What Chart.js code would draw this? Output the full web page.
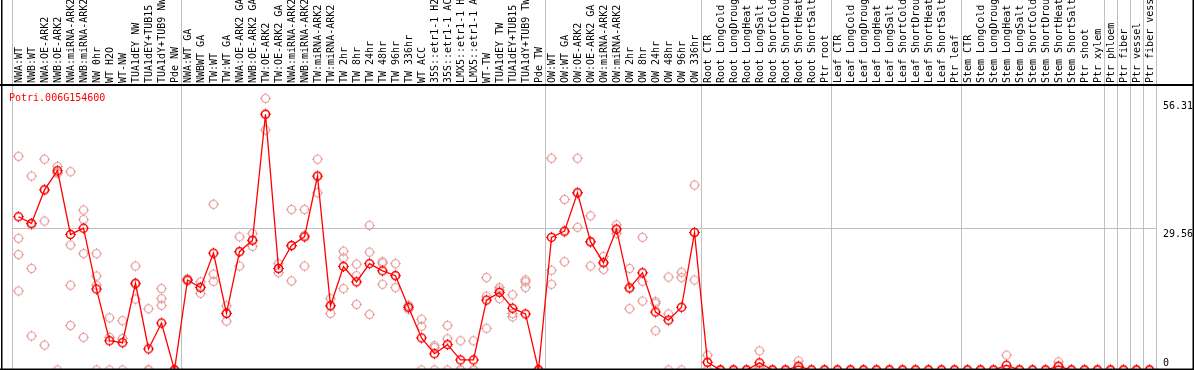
<!DOCTYPE html>
<html>
<head>
<meta charset="utf-8">
<script src="https://cdn.jsdelivr.net/npm/chart.js@4.4.1/dist/chart.umd.min.js"></script>
<style>
  html, body { margin: 0; padding: 0; background: #fff; }
  #wrap { width: 1194px; height: 370px; }
</style>
</head>
<body>
<div id="wrap"><canvas id="exprChart" width="1194" height="370"></canvas></div>
<script>
const geneId = "Potri.006G154600";

const conditions = [
  "NWA:WT", "NWB:WT", "NWA:OE-ARK2", "NWB:OE-ARK2", "NWA:miRNA-ARK2", "NWB:miRNA-ARK2",
  "NW 0hr", "WT H2O", "WT-NW", "TUA1dEY NW", "TUA1dEY+TUB15 NW", "TUA1dY+TUB9 NW", "Pde NW",
  "NWA:WT GA", "NWBWT GA", "TW:WT", "TW:WT GA", "NWA:OE-ARK2 GA", "NWB:OE-ARK2 GA",
  "TW:OE-ARK2", "TW:OE-ARK2 GA", "NWA:miRNA-ARK2 GA", "NWB:miRNA-ARK2 GA", "TW:miRNA-ARK2",
  "TW:miRNA-ARK2 GA", "TW 2hr", "TW 8hr", "TW 24hr", "TW 48hr", "TW 96hr", "TW 336hr",
  "WT ACC", "35S::etr1-1 H2O", "35S::etr1-1 ACC", "LMX5::etr1-1 H2O", "LMX5::etr1-1 ACC",
  "WT-TW", "TUA1dEY TW", "TUA1dEY+TUB15 TW", "TUA1dY+TUB9 TW", "Pde TW",
  "OW:WT", "OW:WT GA", "OW:OE-ARK2", "OW:OE-ARK2 GA", "OW:miRNA-ARK2", "OW:miRNA-ARK2 GA",
  "OW 2hr", "OW 8hr", "OW 24hr", "OW 48hr", "OW 96hr", "OW 336hr",
  "Root CTR", "Root LongCold", "Root LongDrought", "Root LongHeat", "Root LongSalt",
  "Root ShortCold", "Root ShortDrought", "Root ShortHeat", "Root ShortSalt", "Ptr root",
  "Leaf CTR", "Leaf LongCold", "Leaf LongDrought", "Leaf LongHeat", "Leaf LongSalt",
  "Leaf ShortCold", "Leaf ShortDrought", "Leaf ShortHeat", "Leaf ShortSalt", "Ptr leaf",
  "Stem CTR", "Stem LongCold", "Stem LongDrought", "Stem LongHeat", "Stem LongSalt",
  "Stem ShortCold", "Stem ShortDrought", "Stem ShortHeat", "Stem ShortSalt", "Ptr shoot", "Ptr xylem",
  "Ptr phloem", "Ptr fiber", "Ptr vessel", "Ptr fiber vessel"
];

// index of the first sample of each group (group separators)
const groupStarts = [0, 13, 41, 53, 63, 73, 84, 85, 86, 87, 88];

const meanExpr = [
  32.0, 30.6, 37.6, 41.6, 28.3, 29.6, 16.9, 6.1, 5.7, 18.1, 4.4, 9.8, 0,
  18.8, 17.2, 24.4, 11.8, 24.7, 27.1, 53.4, 21.2, 26.0, 27.8, 40.5, 13.4, 21.6, 18.4,
  22.2, 20.7, 19.7, 13.1, 6.7, 3.4, 5.3, 2.1, 2.1, 14.6, 16.2, 12.9, 11.7, 0,
  27.7, 29.0, 37.0, 26.8, 22.4, 29.4, 17.1, 20.3, 12.1, 10.4, 13.1, 28.7,
  1.6, 0, 0, 0, 1.5, 0, 0, 0.8, 0, 0,
  0, 0, 0, 0, 0, 0, 0, 0, 0, 0,
  0, 0, 0, 1.0, 0, 0, 0, 0.8, 0, 0, 0,
  0, 0, 0, 0
];

const rep1 = [
  44.6, 40.5, 44.0, 42.5, 41.4, 33.4, 24.3, 10.9, 10.3, 21.7, 12.8, 17.0, 0,
  19.0, 18.4, 34.6, 13.4, 27.8, 28.5, 56.7, 22.2, 33.5, 33.5, 44.0, 14.9, 24.8, 22.1,
  30.2, 22.6, 22.2, 13.5, 10.6, 5.1, 9.3, 6.1, 6.1, 19.3, 17.2, 15.7, 18.8, 0,
  44.2, 35.6, 44.2, 32.2, 23.7, 30.3, 21.2, 27.7, 14.3, 19.4, 20.4, 38.6,
  3.1, 0, 0, 0, 4.0, 0, 0, 1.9, 0, 0,
  0, 0, 0, 0, 0, 0, 0, 0, 0, 0,
  0, 0, 0, 3.1, 0, 0, 0, 1.7, 0, 0, 0,
  0, 0, 0, 0
];

const rep2 = [
  27.5, 30.3, 37.7, 41.1, 26.1, 31.4, 19.6, 6.8, 6.6, 17.9, 0, 14.9, 0,
  18.8, 17.3, 20.0, 11.9, 24.7, 27.0, 53.4, 21.2, 25.9, 28.1, 40.4, 13.5, 23.4, 19.7,
  24.6, 22.3, 19.7, 13.1, 9.1, 4.7, 6.5, 0, 0, 15.4, 16.7, 11.8, 18.4, 0,
  20.8, 28.8, 37.0, 26.6, 22.4, 29.4, 17.3, 18.5, 13.9, 11.7, 19.3, 28.7,
  1.6, 0, 0, 0, 0.5, 0, 0, 0.5, 0, 0,
  0, 0, 0, 0, 0, 0, 0, 0, 0, 0,
  0, 0, 0, 0, 0, 0, 0, 0.7, 0, 0, 0,
  0, 0, 0, 0
];

const rep3 = [
  24.1, 21.2, 31.1, 41.2, 17.7, 24.3, 17.7, 0, 0, 14.8, 0, 13.5, 0,
  18.6, 16.0, 18.5, 10.2, 21.7, 25.8, 50.1, 20.3, 18.6, 21.7, 37.0, 11.8, 17.0, 13.7,
  11.6, 17.9, 17.2, 12.7, 0, 0, 0, 0, 0, 8.7, 14.9, 11.1, 17.2, 0,
  17.9, 22.6, 29.8, 21.7, 21.0, 28.5, 12.8, 14.4, 8.2, 0, 0, 18.8,
  0, 0, 0, 0, 0, 0, 0, 0, 0, 0,
  0, 0, 0, 0, 0, 0, 0, 0, 0, 0,
  0, 0, 0, 0, 0, 0, 0, 0, 0, 0, 0,
  0, 0, 0, 0
];

// samples with more than three replicates
const extraIdx = [6, 6, 11, 11, 39, 39, 39];
const extraVal = [16.5, 7.1, 5.2, 0, 9.3, 6.8, 0];

const yTicks = [0, 29.56, 56.31];
const yTickLabels = ["0", "29.56", "56.31"];

const monoFont = "'DejaVu Sans Mono', 'Liberation Mono', monospace";
const gridGray = "#c0c0c0";

// circle with four little ticks, like the original plot symbol
function makeMarker(color, lw) {
  const c = document.createElement("canvas");
  c.width = 13;
  c.height = 13;
  const g = c.getContext("2d");
  g.strokeStyle = color;
  g.lineWidth = lw;
  g.beginPath();
  g.arc(6.5, 6.5, 4, 0, Math.PI * 2);
  g.stroke();
  g.lineWidth = 1;
  g.beginPath();
  g.moveTo(6.5, 1); g.lineTo(6.5, 2.5);
  g.moveTo(6.5, 10.5); g.lineTo(6.5, 12);
  g.moveTo(1, 6.5); g.lineTo(2.5, 6.5);
  g.moveTo(10.5, 6.5); g.lineTo(12, 6.5);
  g.stroke();
  return c;
}

const meanMarker = makeMarker("#ff0000", 1.5);
const repMarker = makeMarker("#e89a9a", 1.2);

function repDataset(name, data) {
  return {
    label: name,
    data: data,
    showLine: false,
    pointStyle: repMarker,
    pointRadius: 5,
    order: 1,
    clip: false
  };
}

// borders, header line, gene name and right-hand value labels
const framePlugin = {
  id: "frame",
  afterDraw(chart) {
    const c = chart.ctx;
    const area = chart.chartArea;
    const x = chart.scales.x;
    const y = chart.scales.y;
    c.save();
    c.fillStyle = "#000";
    c.fillRect(0, x.bottom - 1, chart.width, 2);
    c.fillRect(1, 0, 1.5, chart.height);
    c.fillRect(chart.width - 1.5, 0, 1.5, chart.height);
    c.fillRect(0, chart.height - 1.5, chart.width, 1.5);

    c.font = "10px " + monoFont;
    c.textBaseline = "alphabetic";
    c.textAlign = "left";
    yTicks.forEach((v, k) => {
      const py = y.getPixelForValue(v);
      c.fillText(yTickLabels[k], area.right + 7, Math.min(py + 9, area.bottom - 4));
    });

    c.fillStyle = "#ff0000";
    c.fillText(geneId, area.left - 3, area.top + 16);
    c.restore();
  }
};

const ctx = document.getElementById("exprChart").getContext("2d");

new Chart(ctx, {
  type: "line",
  data: {
    labels: conditions,
    datasets: [
      {
        label: geneId,
        data: meanExpr,
        borderColor: "#ff0000",
        borderWidth: 1.3,
        tension: 0,
        pointStyle: meanMarker,
        pointRadius: 5,
        order: 0,
        clip: false
      },
      repDataset("rep1", rep1),
      repDataset("rep2", rep2),
      repDataset("rep3", rep3),
      repDataset("extra", extraIdx.map((idx, k) => ({ x: idx, y: extraVal[k] })))
    ]
  },
  options: {
    responsive: false,
    devicePixelRatio: 1,
    animation: false,
    layout: { autoPadding: false, padding: { left: 12, top: 0, right: 0, bottom: 0 } },
    plugins: {
      legend: { display: false },
      tooltip: { enabled: false }
    },
    scales: {
      x: {
        position: "top",
        offset: true,
        grid: {
          offset: true,
          lineWidth: 1,
          tickLength: 85,
          color: (c) => (c.type === "scale" || groupStarts.includes(c.index)) ? gridGray : "rgba(0,0,0,0)"
        },
        border: { display: false },
        ticks: {
          autoSkip: false,
          minRotation: 90,
          maxRotation: 90,
          padding: -83,
          labelOffset: 13,
          color: "#000",
          font: { family: monoFont, size: 10 }
        },
        afterFit: (s) => { s.height = 85; }
      },
      y: {
        position: "right",
        min: 0,
        max: 59.5,
        afterBuildTicks: (s) => { s.ticks = yTicks.map((v) => ({ value: v })); },
        grid: {
          drawTicks: false,
          lineWidth: 1,
          color: (c) => (c.tick && c.tick.value === 29.56) ? gridGray : "rgba(0,0,0,0)"
        },
        border: { display: false },
        ticks: { display: false },
        afterFit: (s) => { s.width = 38; }
      }
    }
  },
  plugins: [framePlugin]
});
</script>
</body>
</html>
